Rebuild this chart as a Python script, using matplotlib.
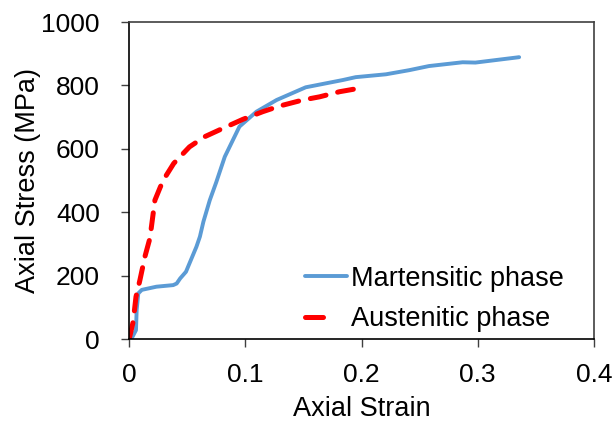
import matplotlib
matplotlib.use("Agg")
import matplotlib.pyplot as plt
from matplotlib.lines import Line2D

# Martensitic phase (blue solid)
mart_strain = [0.0, 0.0023, 0.006, 0.0066, 0.008, 0.011, 0.0236, 0.038, 0.041, 0.044, 0.049,
               0.058, 0.061, 0.064, 0.0695, 0.075, 0.0824, 0.095, 0.1096, 0.127, 0.152,
               0.184, 0.195, 0.221, 0.241, 0.258, 0.287, 0.298, 0.3356]
mart_stress = [0, 2, 28, 92, 144, 155, 165, 170, 175, 191, 212,
               291, 323, 370, 438, 494, 575, 670, 717, 754, 794,
               817, 826, 835, 848, 861, 873, 872, 889]

# Austenitic phase (red dashed)
aus_strain = [0.0003, 0.0036, 0.006, 0.0094, 0.0137, 0.018, 0.0223, 0.027, 0.031, 0.0385,
              0.052, 0.065, 0.084, 0.098, 0.115, 0.1296, 0.1496, 0.164, 0.181, 0.198]
aus_stress = [2, 55, 133, 186, 260, 318, 438, 480, 510, 554,
              606, 638, 670, 693, 717, 735, 754, 764, 780, 791]

x_ticks = [0, 0.1, 0.2, 0.3, 0.4]
x_ticklabels = ["0", "0.1", "0.2", "0.3", "0.4"]
y_ticks = [0, 200, 400, 600, 800, 1000]
labels = ['Martensitic phase', 'Austenitic phase']

plt.rcParams['font.family'] = ['Liberation Sans', 'DejaVu Sans']

fig = plt.figure(figsize=(6.16, 4.23), dpi=100)
ax = fig.add_axes([129/616, 1 - 339/423, (594 - 129)/616, (339 - 22)/423])

blue = '#5B9BD5'
red = '#FF0000'
ax.plot(mart_strain, mart_stress, color=blue, lw=2.8,
        solid_capstyle='round', solid_joinstyle='round')
ax.plot(aus_strain, aus_stress, color=red, lw=3.6,
        dashes=(3.2, 2.4), dash_capstyle='round')

ax.set_xlim(0, 0.4)
ax.set_ylim(0, 1000)
ax.set_xticks(x_ticks)
ax.set_xticklabels(x_ticklabels)
ax.set_yticks(y_ticks)
ax.tick_params(direction='out', length=6, width=1, colors='#404040', labelcolor='black',
               labelsize=19)
ax.tick_params(axis='x', pad=11)
ax.tick_params(axis='y', pad=15)
for s in ax.spines.values():
    s.set_color('#404040')
    s.set_linewidth(1.2)
ax.spines['left'].set_color('black')
ax.spines['bottom'].set_color('black')

ax.set_xlabel('Axial Strain', fontsize=19.5, labelpad=6.5)
ax.set_ylabel('Axial Stress (MPa)', fontsize=19.5, labelpad=0)

h1 = Line2D([], [], color=blue, lw=2.8, solid_capstyle='round')
h2 = Line2D([], [], color=red, lw=3.6, dashes=(3.6, 10), dash_capstyle='round')
leg = ax.legend([h1, h2], labels,
                loc='center left', bbox_to_anchor=((305 - 129) / 465, (339 - 299) / 317),
                frameon=False, fontsize=19.5, handlelength=1.55,
                handletextpad=0.15, borderaxespad=0, borderpad=0, labelspacing=0.55)

fig.savefig('out.png', dpi=100)
